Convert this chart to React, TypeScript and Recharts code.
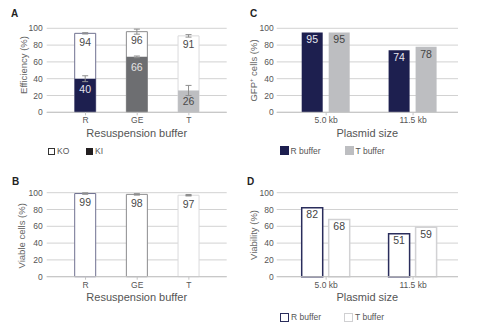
import React from 'react';
import { BarChart, Bar, XAxis, YAxis, CartesianGrid, Cell, LabelList, ErrorBar } from 'recharts';

const FONT = '"Liberation Sans", Arial, Helvetica, sans-serif';

// panel A / B: resuspension buffers
const BUFFERS = ['R', 'GE', 'T'];
const KO_EFF = [94, 96, 91];
const KO_ERR = [0.8, 3, 1.5];
const KI_EFF = [40, 66, 26];
const KI_ERR = [3.5, 1, 6];
const VIABLE = [99, 98, 97];
const VIABLE_ERR = [0.6, 0.6, 0.6];

// panel C / D: plasmid sizes
const PLASMIDS = ['5.0 kb', '11.5 kb'];
const GFP_R = [95, 74];
const GFP_T = [95, 78];
const VIAB_R = [82, 51];
const VIAB_T = [68, 59];

const Y_TICKS = [0, 20, 40, 60, 80, 100];

const NAVY = '#1d1f4f';
const BUFFER_FILL = [NAVY, '#6d6e71', '#bdbec1'];
const BUFFER_EDGE = ['#6f7190', '#8c8c8e', '#dadadc'];
const KI_LABEL = ['#e4e4ee', '#e4e4e4', '#4a4a4a'];

const effData = BUFFERS.map((name, i) => ({
  name,
  ko: KO_EFF[i],
  koErr: KO_ERR[i],
  ki: KI_EFF[i],
  kiErr: KI_ERR[i],
}));
const viableData = BUFFERS.map((name, i) => ({ name, v: VIABLE[i], err: VIABLE_ERR[i] }));
const gfpData = PLASMIDS.map((name, i) => ({ name, r: GFP_R[i], t: GFP_T[i] }));
const viabData = PLASMIDS.map((name, i) => ({ name, r: VIAB_R[i], t: VIAB_T[i] }));

const tickStyle = { fontSize: 8.5, fill: '#555', fontFamily: FONT };

const yTitle = (x: number, y: number, content: React.ReactNode) => () => (
  <text
    x={x}
    y={y}
    transform={`rotate(-90 ${x} ${y})`}
    textAnchor="middle"
    fontSize={9.5}
    fill="#666"
    fontFamily={FONT}
  >
    {content}
  </text>
);

const xTitle = (x: number, y: number, text: string) => () => (
  <text x={x} y={y} textAnchor="middle" fontSize={11} fill="#555" fontFamily={FONT}>
    {text}
  </text>
);

const Letter = ({ ch, x, y }: { ch: string; x: number; y: number }) => (
  <div
    style={{
      position: 'absolute',
      left: x,
      top: y,
      fontSize: 10,
      lineHeight: '10px',
      fontWeight: 'bold',
      color: '#222',
      fontFamily: FONT,
    }}
  >
    {ch}
  </div>
);

type LegendItem = { label: string; x: number; y: number; size: number; fill: string; stroke: string; sw: number };

const HtmlLegend = ({ items }: { items: LegendItem[] }) => (
  <>
    {items.map((it) => (
      <div key={it.label} style={{ position: 'absolute', left: it.x, top: it.y, display: 'flex', alignItems: 'center' }}>
        <div
          style={{
            width: it.size,
            height: it.size,
            boxSizing: 'border-box',
            background: it.fill,
            border: `${it.sw}px solid ${it.stroke}`,
          }}
        />
        <span style={{ fontSize: 8.5, color: '#555', fontFamily: FONT, marginLeft: 2, lineHeight: '10px' }}>
          {it.label}
        </span>
      </div>
    ))}
  </>
);

const gridProps = { vertical: false, stroke: '#d2d2d2' };

export default function App() {
  return (
    <div style={{ position: 'absolute', left: 0, top: 0, width: 478, height: 325, background: '#fff', fontFamily: FONT }}>
      {/* A */}
      <div style={{ position: 'absolute', left: 0, top: 0 }}>
        <BarChart
          width={240}
          height={165}
          data={effData}
          margin={{ top: 28.3, right: 13.3, bottom: 22.7, left: 0 }}
          barSize={21}
          barGap={-21}
        >
          <CartesianGrid {...gridProps} />
          <XAxis
            dataKey="name"
            padding={{ left: 13, right: 12 }}
            height={30}
            tickSize={3}
            tickMargin={2}
            tickLine={{ stroke: '#c4c4c4' }}
            axisLine={{ stroke: '#c4c4c4' }}
            tick={tickStyle}
            label={{ content: xTitle(136.7, 136.5, 'Resuspension buffer') }}
          />
          <YAxis
            width={46.7}
            domain={[0, 100]}
            ticks={Y_TICKS}
            interval={0}
            tickLine={false}
            axisLine={false}
            tickSize={2}
            tickMargin={2}
            tick={tickStyle}
            label={{ content: yTitle(27, 65, 'Efficiency (%)') }}
          />
          <Bar dataKey="ko" isAnimationActive={false} fill="#fff" strokeWidth={1}>
            {effData.map((_, i) => (
              <Cell key={`ko-${i}`} fill="#fff" stroke={BUFFER_EDGE[i]} />
            ))}
            <ErrorBar dataKey="koErr" width={3} stroke="#8f8f8f" strokeWidth={1} direction="y" />
            <LabelList dataKey="ko" position="insideTop" offset={5} fontSize={10.5} fill="#4a4a4a" fontFamily={FONT} />
          </Bar>
          <Bar dataKey="ki" isAnimationActive={false}>
            {effData.map((_, i) => (
              <Cell key={`ki-${i}`} fill={BUFFER_FILL[i]} />
            ))}
            <ErrorBar dataKey="kiErr" width={3} stroke="#8f8f8f" strokeWidth={1} direction="y" />
            <LabelList
              dataKey="ki"
              position="insideTop"
              offset={7}
              fontSize={10.5}
              fontFamily={FONT}
              content={(p: any) => {
                const i = p.index ?? 0;
                return (
                  <text
                    x={Number(p.x) + Number(p.width) / 2}
                    y={Number(p.y) + 7 + 7.5}
                    textAnchor="middle"
                    fontSize={10.5}
                    fill={KI_LABEL[i]}
                    fontFamily={FONT}
                  >
                    {p.value}
                  </text>
                );
              }}
            />
          </Bar>
        </BarChart>
      </div>

      {/* B */}
      <div style={{ position: 'absolute', left: 0, top: 160 }}>
        <BarChart
          width={240}
          height={165}
          data={viableData}
          margin={{ top: 32.7, right: 13.3, bottom: 18.3, left: 0 }}
          barSize={21}
        >
          <CartesianGrid {...gridProps} />
          <XAxis
            dataKey="name"
            padding={{ left: 13, right: 12 }}
            height={30}
            tickSize={3}
            tickMargin={2}
            tickLine={{ stroke: '#c4c4c4' }}
            axisLine={{ stroke: '#c4c4c4' }}
            tick={tickStyle}
            label={{ content: xTitle(136.7, 140.5, 'Resuspension buffer') }}
          />
          <YAxis
            width={46.7}
            domain={[0, 100]}
            ticks={Y_TICKS}
            interval={0}
            tickLine={false}
            axisLine={false}
            tickSize={2}
            tickMargin={2}
            tick={tickStyle}
            label={{ content: yTitle(25.5, 75.8, 'Viable cells (%)') }}
          />
          <Bar dataKey="v" isAnimationActive={false} strokeWidth={1}>
            {viableData.map((_, i) => (
              <Cell key={`v-${i}`} fill="#fff" stroke={BUFFER_EDGE[i]} />
            ))}
            <ErrorBar dataKey="err" width={3} stroke="#8f8f8f" strokeWidth={1.5} direction="y" />
            <LabelList dataKey="v" position="insideTop" offset={5} fontSize={10.5} fill="#4a4a4a" fontFamily={FONT} />
          </Bar>
        </BarChart>
      </div>

      {/* C */}
      <div style={{ position: 'absolute', left: 240, top: 0 }}>
        <BarChart
          width={238}
          height={165}
          data={gfpData}
          margin={{ top: 28.3, right: 20, bottom: 22.7, left: 0 }}
          barSize={21}
          barGap={6}
        >
          <CartesianGrid {...gridProps} />
          <XAxis
            dataKey="name"
            padding={{ left: 6, right: 1.5 }}
            height={30}
            tickSize={3}
            tickMargin={2}
            tickLine={{ stroke: '#c4c4c4' }}
            axisLine={{ stroke: '#c4c4c4' }}
            tick={tickStyle}
            label={{ content: xTitle(127.3, 136.5, 'Plasmid size') }}
          />
          <YAxis
            width={36.7}
            domain={[0, 100]}
            ticks={Y_TICKS}
            interval={0}
            tickLine={false}
            axisLine={false}
            tickSize={2}
            tickMargin={1}
            tick={tickStyle}
            label={{
              content: yTitle(
                16.5,
                70.5,
                <>
                  GFP<tspan fontSize={6} dy={-3.5}>+</tspan>
                  <tspan dy={3.5}> cells (%)</tspan>
                </>
              ),
            }}
          />
          <Bar dataKey="r" isAnimationActive={false} fill={NAVY}>
            <LabelList dataKey="r" position="insideTop" offset={3.5} fontSize={10.5} fill="#e8e8f0" fontFamily={FONT} />
          </Bar>
          <Bar dataKey="t" isAnimationActive={false} fill="#bdbec1">
            <LabelList dataKey="t" position="insideTop" offset={3.5} fontSize={10.5} fill="#444" fontFamily={FONT} />
          </Bar>
        </BarChart>
      </div>

      {/* D */}
      <div style={{ position: 'absolute', left: 240, top: 160 }}>
        <BarChart
          width={238}
          height={165}
          data={viabData}
          margin={{ top: 32.7, right: 20, bottom: 18.3, left: 0 }}
          barSize={21}
          barGap={6}
        >
          <CartesianGrid {...gridProps} />
          <XAxis
            dataKey="name"
            padding={{ left: 6, right: 1.5 }}
            height={30}
            tickSize={3}
            tickMargin={2}
            tickLine={{ stroke: '#c4c4c4' }}
            axisLine={{ stroke: '#c4c4c4' }}
            tick={tickStyle}
            label={{ content: xTitle(127.3, 140.7, 'Plasmid size') }}
          />
          <YAxis
            width={36.7}
            domain={[0, 100]}
            ticks={Y_TICKS}
            interval={0}
            tickLine={false}
            axisLine={false}
            tickSize={2}
            tickMargin={1}
            tick={tickStyle}
            label={{ content: yTitle(17, 75, 'Viability (%)') }}
          />
          <Bar dataKey="r" isAnimationActive={false} fill="#fff" stroke="#2a2d5c" strokeWidth={1.5}>
            <LabelList dataKey="r" position="insideTop" offset={3} fontSize={10.5} fill="#444" fontFamily={FONT} />
          </Bar>
          <Bar dataKey="t" isAnimationActive={false} fill="#fff" stroke="#d2d2d4" strokeWidth={1.5}>
            <LabelList dataKey="t" position="insideTop" offset={3} fontSize={10.5} fill="#444" fontFamily={FONT} />
          </Bar>
        </BarChart>
      </div>

      <Letter ch="A" x={11} y={9} />
      <Letter ch="B" x={12} y={177} />
      <Letter ch="C" x={250} y={9} />
      <Letter ch="D" x={247} y={177} />

      <HtmlLegend
        items={[
          { label: 'KO', x: 48, y: 146, size: 7, fill: '#fff', stroke: '#333', sw: 1 },
          { label: 'KI', x: 86, y: 146, size: 7, fill: '#231f20', stroke: '#231f20', sw: 1 },
          { label: 'R buffer', x: 280, y: 145.5, size: 8.5, fill: NAVY, stroke: NAVY, sw: 1 },
          { label: 'T buffer', x: 345, y: 145.5, size: 8.5, fill: '#bdbec1', stroke: '#bdbec1', sw: 1 },
          { label: 'R buffer', x: 280, y: 312, size: 9, fill: '#fff', stroke: '#2a2d5c', sw: 1.5 },
          { label: 'T buffer', x: 344, y: 312, size: 9, fill: '#fff', stroke: '#d0d0d2', sw: 1.5 },
        ]}
      />
    </div>
  );
}
